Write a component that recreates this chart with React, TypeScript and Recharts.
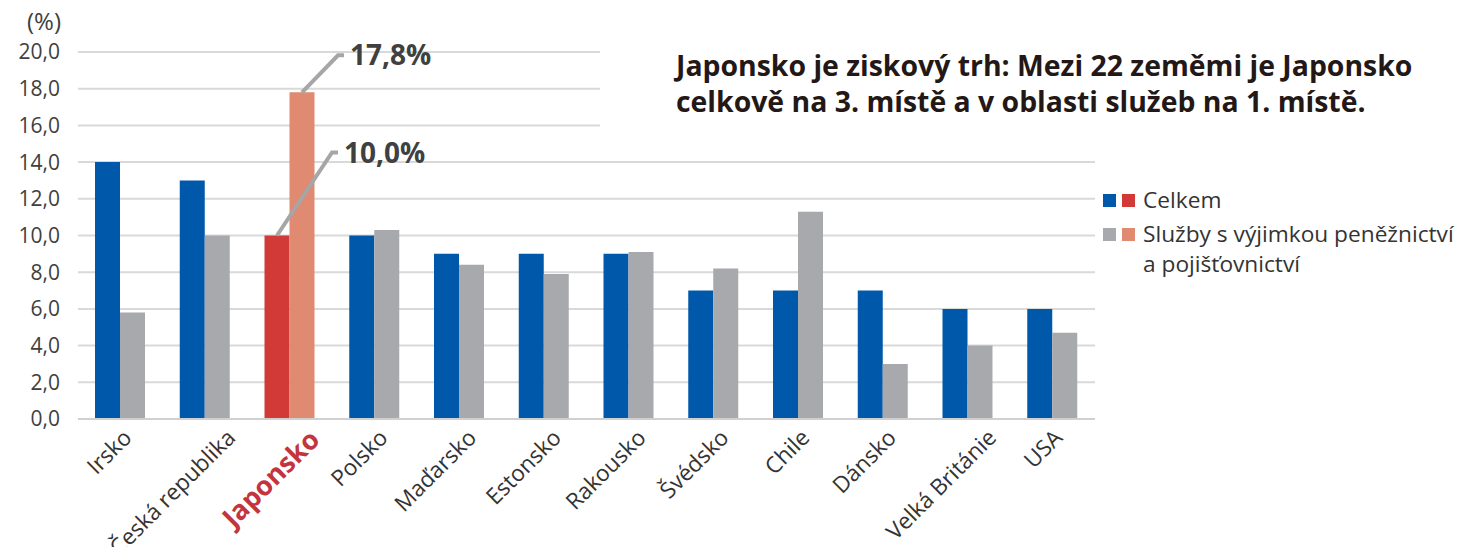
import React from "react";
import { BarChart, Bar, XAxis, YAxis, CartesianGrid, Cell, LabelList } from "recharts";

const categories = ["Irsko", "Česká republika", "Japonsko", "Polsko", "Maďarsko", "Estonsko", "Rakousko", "Švédsko", "Chile", "Dánsko", "Velká Británie", "USA"];
const celkem = [14, 13, 10, 10, 9, 9, 9, 7, 7, 7, 6, 6];
const sluzby = [5.8, 10, 17.8, 10.3, 8.4, 7.9, 9.1, 8.2, 11.3, 3.0, 4.0, 4.7];
const highlight = "Japonsko";
const yTicks = [0, 2, 4, 6, 8, 10, 12, 14, 16, 18, 20];
const seriesNames = ["Celkem", "Služby s výjimkou peněžnictví", "a pojišťovnictví"];
const titleLines = ["Japonsko je ziskový trh: Mezi 22 zeměmi je Japonsko", "celkově na 3. místě a v oblasti služeb na 1. místě."];

const BLUE = "#0058AA";
const GRAY = "#A7A9AC";
const RED = "#D13A36";
const SALMON = "#E08A72";
const FONT = "'Open Sans', 'Noto Sans', sans-serif";

const data = categories.map((c, i) => ({ name: c, celkem: celkem[i], sluzby: sluzby[i] }));
const fmt = (v: number) => v.toFixed(1).replace(".", ",");

const XTick = (props: any) => {
  const { x, y, payload } = props;
  const label: string = payload.value;
  const isH = label === highlight;
  const shift = isH ? 18 : Math.max(0, 1.9 * label.length - 8);
  return (
    <g transform={`translate(${x + shift},${y + 7})`}>
      <text
        transform="rotate(-45)"
        textAnchor="end"
        dy="0.7em"
        fontFamily={FONT}
        fontSize={isH ? 27 : 22.5}
        fontWeight={isH ? 700 : 400}
        fill={isH ? "#C4343E" : "#333333"}
      >
        {label}
      </text>
    </g>
  );
};

const makeAnnot = (dx: number, dy: number) => (props: any) => {
  const { x, y, width, index, value } = props;
  if (data[index].name !== highlight) return null;
  const sx = x + width / 2;
  const sy = y;
  const ex = sx + dx;
  const ey = sy - dy;
  return (
    <g>
      <polyline points={`${sx},${sy} ${ex},${ey} ${ex + 6},${ey}`} fill="none" stroke="#A6A6A6" strokeWidth={4} />
      <text x={ex + 12} y={ey} dy="0.36em" fontFamily={FONT} fontWeight={700} fontSize={28} fill="#404040">
        {fmt(value)}%
      </text>
    </g>
  );
};

const Sq = ({ c }: { c: string }) => (
  <span style={{ display: "inline-block", width: 13, height: 13, background: c, marginRight: 6 }} />
);

export default function App() {
  return (
    <div style={{ position: "absolute", left: 0, top: 0, width: 1459, height: 547, background: "#fff" }}>
      <BarChart
        width={1459}
        height={547}
        data={data}
        margin={{ top: 52, right: 364, bottom: 0, left: 0 }}
        barGap={0}
      >
        <CartesianGrid horizontal vertical={false} stroke="#D9D9D9" strokeWidth={2} />
        <XAxis
          dataKey="name"
          interval={0}
          height={128}
          tickLine={false}
          tickSize={0}
          axisLine={{ stroke: "#D0D0D0", strokeWidth: 2 }}
          tick={<XTick />}
        />
        <YAxis
          width={78}
          domain={[0, 20]}
          ticks={yTicks}
          interval={0}
          axisLine={false}
          tickLine={false}
          tickSize={0}
          tickMargin={18}
          tickFormatter={fmt}
          tick={{ fontFamily: FONT, fontSize: 21, fill: "#404040" }}
        />
        <Bar dataKey="celkem" barSize={25} isAnimationActive={false}>
          {data.map((d, i) => (
            <Cell key={i} fill={d.name === highlight ? RED : BLUE} />
          ))}
          <LabelList dataKey="celkem" content={makeAnnot(55, 83)} />
        </Bar>
        <Bar dataKey="sluzby" barSize={25} isAnimationActive={false}>
          {data.map((d, i) => (
            <Cell key={i} fill={d.name === highlight ? SALMON : GRAY} />
          ))}
          <LabelList dataKey="sluzby" content={makeAnnot(36, 37)} />
        </Bar>
      </BarChart>
      <div style={{ position: "absolute", left: 27, top: 4, fontFamily: FONT, fontSize: 24, color: "#404040" }}>(%)</div>
      <div
        style={{
          position: "absolute",
          left: 600,
          top: 42,
          width: 500,
          height: 96,
          background: "#fff",
        }}
      />
      <div
        style={{
          position: "absolute",
          left: 676,
          top: 47,
          fontFamily: FONT,
          fontWeight: 700,
          fontSize: 28.4,
          lineHeight: "36px",
          color: "#231815",
          whiteSpace: "nowrap",
        }}
      >
        <div>{titleLines[0]}</div>
        <div>{titleLines[1]}</div>
      </div>
      <div
        style={{
          position: "absolute",
          left: 1103,
          top: 183,
          fontFamily: FONT,
          fontSize: 22.7,
          color: "#333",
          lineHeight: "34px",
          whiteSpace: "nowrap",
        }}
      >
        <div style={{ display: "flex", alignItems: "center" }}>
          <Sq c={BLUE} />
          <Sq c={RED} />
          <span style={{ marginLeft: 2 }}>{seriesNames[0]}</span>
        </div>
        <div style={{ display: "flex", alignItems: "center", height: 34 }}>
          <Sq c={GRAY} />
          <Sq c={SALMON} />
          <span style={{ marginLeft: 2 }}>{seriesNames[1]}</span>
        </div>
        <div style={{ paddingLeft: 40, marginTop: -4 }}>{seriesNames[2]}</div>
      </div>
    </div>
  );
}
